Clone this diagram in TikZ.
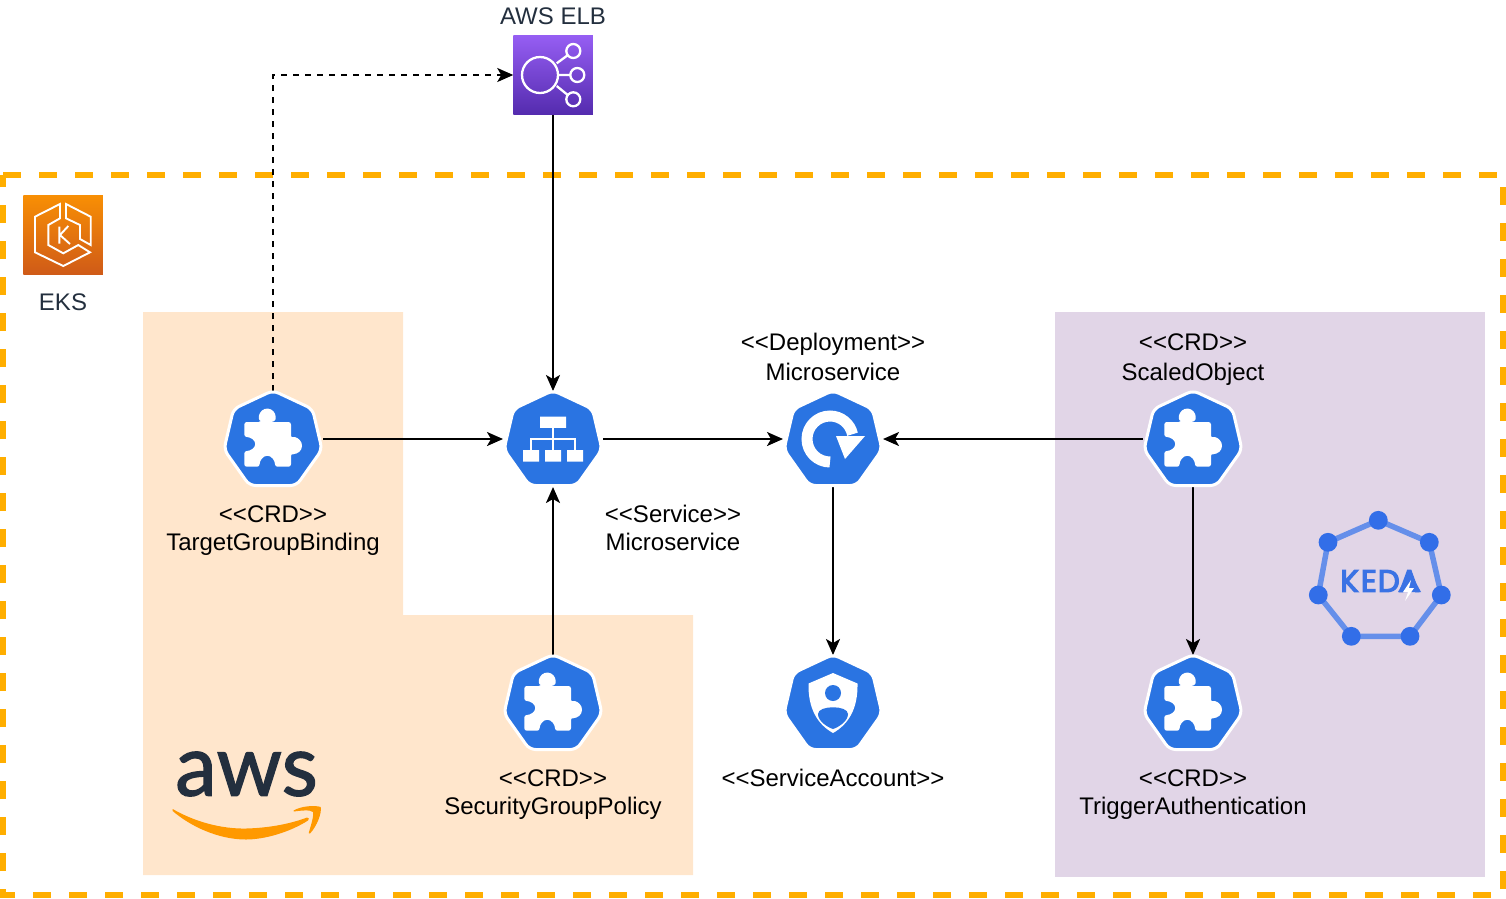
\documentclass[tikz,border=0pt]{standalone}
\usepackage{fontspec}
\usetikzlibrary{arrows.meta}
\newfontfamily\labfont{Liberation Sans}
\newfontfamily\kedafont{Poppins}[RawFeature={embolden=4}]
\newfontfamily\awsfont{Lato}[RawFeature={embolden=1.6}]
\definecolor{kblue}{HTML}{2A74E2}
\definecolor{zoneborder}{HTML}{FFAE00}
\definecolor{zoneaws}{HTML}{FFE6CC}
\definecolor{zonekeda}{HTML}{E1D5E7}
\definecolor{awsdark}{HTML}{232F3E}
\definecolor{smile}{HTML}{FF9900}
\definecolor{kedadot}{HTML}{326EE8}
\definecolor{kedaline}{HTML}{658FEA}
\definecolor{kedatext}{HTML}{3A72E4}
\tikzset{
  x=1pt,y=-1pt,
  iconbox/.style={rectangle,minimum width=100pt,minimum height=96pt,inner sep=0pt,outer sep=0pt},
  awsbox/.style={rectangle,minimum size=79.5pt,inner sep=0pt,outer sep=0pt},
  lbl/.style={font=\labfont\fontsize{24}{28}\selectfont,align=center,inner sep=0pt,text=black},
  lbldark/.style={lbl,text=awsdark},
  conn/.style={draw=black,line width=2pt,-{Stealth[length=16pt,width=14pt,inset=4pt]}},
  connd/.style={conn,dash pattern=on 6pt off 6pt},
  wline/.style={draw=white,line width=2.3pt,fill=none,line join=round,line cap=round},
  pics/hepta/.style={code={
    \draw[fill=kblue,draw=white,line width=3pt,rounded corners=6pt]
      (0,-48.5)--(39.5,-30)--(49,10.5)--(23.5,46.5)--(-23.5,46.5)--(-49,10.5)--(-39.5,-30)--cycle;}},
  pics/puzzle/.style={code={
    \pic {hepta};
    \fill[white,rounded corners=2.5pt]
      (-28.7,-17)--(-12,-17)--(-12,-17)
      arc[start angle=140,delta angle=260,radius=8.2]
      -- (0.5,-17) -- (18,-17) -- (18,-1)
      arc[start angle=-110,delta angle=220,radius=8.2]
      -- (18,27.7) -- (2,27.7)
      arc[start angle=0,delta angle=-180,x radius=7.7,y radius=11]
      -- (-28.7,27.7) -- (-28.7,12)
      arc[start angle=90,delta angle=-180,x radius=11,y radius=7]
      -- cycle;}},
  pics/svcicon/.style={code={
    \pic {hepta};
    \fill[white] (-13,-22.5) rectangle (13,-11.2)
      (-30,11) rectangle (-14,22.7) (-8,11) rectangle (8,22.7) (14,11) rectangle (30,22.7);
    \draw[white,line width=2pt] (0,-11)--(0,11) (-22,11)--(-22,0)--(22,0)--(22,11);}},
  pics/depicon/.style={code={
    \pic {hepta};
    \draw[white,line width=11pt] (-3,23) arc[start angle=90,delta angle=258,radius=23];
    \fill[white] (3,-3)--(32,-3)--(12,20)--cycle;}},
  pics/saicon/.style={code={
    \pic {hepta};
    \fill[white] (0,-30)--(24.5,-19.5) .. controls (25,5) and (16,21) .. (0,30)
      .. controls (-16,21) and (-25,5) .. (-24.5,-19.5)--cycle;
    \fill[kblue] (0,-10) circle[radius=8];
    \fill[kblue] (-15,11) .. controls (-15,2) and (15,2) .. (15,11)
      .. controls (15,18) and (6,24) .. (0,26) .. controls (-6,24) and (-15,18) .. (-15,11)--cycle;}}
}
\begin{document}
\begin{tikzpicture}
\useasboundingbox (0,0) rectangle (1506,898);
% zones
\fill[zoneaws] (143,312)--(403,312)--(403,615)--(693,615)--(693,875)--(143,875)--cycle;
\fill[zonekeda] (1055,312) rectangle (1485,877);
\draw[zoneborder,line width=6pt,dash pattern=on 18pt off 18pt,line cap=butt] (3,175)--(1503,175)--(1503,895)--(3,895)--cycle;

% nodes
\node[awsbox,top color={rgb,255:red,150;green,94;blue,243},bottom color={rgb,255:red,84;green,43;blue,174}] (elb) at (553,75) {};
\node[awsbox,top color={rgb,255:red,248;green,143;blue,4},bottom color={rgb,255:red,207;green,90;blue,24}] (eks) at (63,235) {};
\node[iconbox] (tgb) at (273,439) {};
\node[iconbox] (svc) at (553,439) {};
\node[iconbox] (dep) at (833,439) {};
\node[iconbox] (sco) at (1193,439) {};
\node[iconbox] (sgp) at (553,703) {};
\node[iconbox] (sac) at (833,703) {};
\node[iconbox] (tra) at (1193,703) {};

% connectors
\draw[connd] (tgb.north) |- (elb.west);
\draw[conn] (elb.south) -- (svc.north);
\draw[conn] (tgb.east) -- (svc.west);
\draw[conn] (svc.east) -- (dep.west);
\draw[conn] (sco.west) -- (dep.east);
\draw[conn] (sgp.north) -- (svc.south);
\draw[conn] (dep.south) -- (sac.north);
\draw[conn] (sco.south) -- (tra.north);

% icons
\pic at (tgb) {puzzle};
\pic at (sco) {puzzle};
\pic at (sgp) {puzzle};
\pic at (tra) {puzzle};
\pic at (svc) {svcicon};
\pic at (dep) {depicon};
\pic at (sac) {saicon};

% ELB glyph
\draw[wline] (540,75) circle[radius=18];
\draw[wline] (573.3,51) circle[radius=7] (577.3,75) circle[radius=7] (573.3,99.3) circle[radius=7];
\draw[wline,line cap=butt] (556.7,63.3)--(568,55) (558,75)--(570.3,75) (556.7,86)--(567.7,95);
% EKS glyph
\draw[wline,line width=1.9pt,line cap=butt,line join=miter] (60,204)--(35,216.7)--(35,252.3)--(63.3,266)--(90,252.3)--(78.3,245)--(63.3,253.3)--(48.3,245)--(48.3,225)--(60,218.3)--cycle;
\draw[wline,line width=1.9pt,line cap=butt,line join=miter] (66,204)--(90.7,216.7)--(90.7,245)--(80,239)--(80,225)--(66,218.3)--cycle;
\draw[wline,line width=1.9pt,line cap=butt,line join=miter] (59.3,226.5)--(59.3,243.5) (68.3,226)--(60,235)--(70,244);

% labels
\node[lbldark] (elbl) at (553,16) {AWS ELB};
\node[lbldark] (eksl) at (63,302) {EKS};
\node[lbl] (tgbl) at (273,531) {<{}<CRD>{}>\\TargetGroupBinding};
\node[lbl] (svcl) at (673,528) {<{}<Service>{}>\\Microservice};
\node[lbl] (depl) at (833,357) {<{}<Deployment>{}>\\[2pt]Microservice};
\node[lbl] (scol) at (1193,360) {<{}<CRD>{}>\\[2pt]ScaledObject};
\node[lbl] (sgpl) at (553,795) {<{}<CRD>{}>\\SecurityGroupPolicy};
\node[lbl] (sacl) at (833,778) {<{}<ServiceAccount>{}>};
\node[lbl] (tral) at (1193,795) {<{}<CRD>{}>\\TriggerAuthentication};

% AWS logo
\node[inner sep=0pt,text=awsdark,font=\awsfont\fontsize{85}{85}\selectfont,xscale=0.98] (awst) at (246.5,774) {aws};
\fill[smile] (172.7,809) .. controls (195,822) and (222,829) .. (246,828.5)
  .. controls (268,828) and (290,824) .. (307,817.5)
  .. controls (309,817) and (309.5,819.5) .. (308,820.5)
  .. controls (290,832) and (265,839.5) .. (246,839.5)
  .. controls (218,839.5) and (190,826) .. (172.7,811) -- cycle;
\fill[smile] (293.5,810.5) .. controls (301,806) and (315,805) .. (320.7,807)
  .. controls (322,813) and (317,826) .. (310,833.5)
  .. controls (309,834) and (308.5,833) .. (309,832)
  .. controls (311,825) and (314,816) .. (313,812)
  .. controls (310,809.5) and (301,810.5) .. (294,811.5) -- cycle;

% KEDA logo
\draw[kedaline,line width=5.5pt,line join=round] (1378.3,520.3)--(1429.3,542.3)--(1441.3,595)--(1410,636.3)--(1351.3,636.3)--(1318.3,595)--(1328,542.3)--cycle;
\foreach \p in {(1378.3,520.3),(1429.3,542.3),(1441.3,595),(1410,636.3),(1351.3,636.3),(1318.3,595),(1328,542.3)}
  \fill[kedadot] \p circle[radius=9.4];
\node[inner sep=0pt,text=kedatext,font=\kedafont\fontsize{31}{31}\selectfont] (kedat) at (1380,581) {K\kern2pt E\kern1pt D\kern-1pt A};
\fill[kedatext] (1409.5,571)--(1421,592)--(1398,592)--cycle;
\fill[white] (1411,580)--(1403,592)--(1408,592)--(1405,601)--(1414,588)--(1409,588)--cycle;
\end{tikzpicture}
\end{document}
